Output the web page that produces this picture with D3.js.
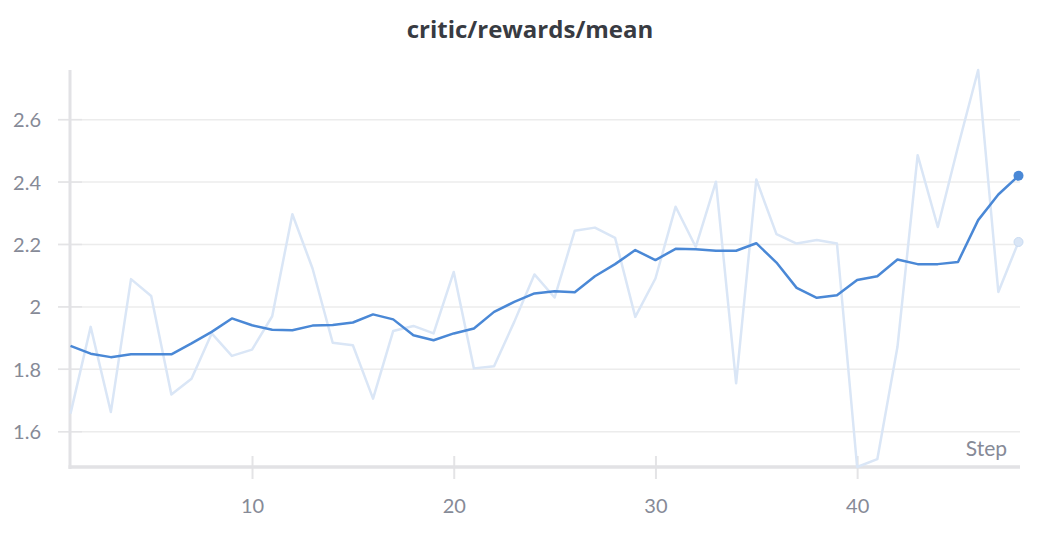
<!DOCTYPE html>
<html><head><meta charset="utf-8">
<script src="https://cdn.jsdelivr.net/npm/d3@7"></script>
<style>
html,body{margin:0;padding:0;background:#fff;}
svg{display:block;font-family:Lato,"Noto Sans",sans-serif;}
</style></head>
<body><svg id="chart" width="1056" height="534"></svg>
<script>
const title = "critic/rewards/mean";
const steps = d3.range(1, 49);
const rawValues = [1.658,1.936,1.663,2.089,2.035,1.719,1.770,1.915,1.843,1.863,
  1.970,2.297,2.123,1.885,1.877,1.706,1.923,1.939,1.915,2.112,
  1.803,1.810,1.952,2.104,2.030,2.244,2.254,2.221,1.968,2.091,
  2.321,2.192,2.401,1.755,2.408,2.233,2.203,2.214,2.203,1.487,
  1.512,1.872,2.486,2.256,2.513,2.759,2.048,2.208];
const smoothValues = [1.875,1.850,1.839,1.848,1.848,1.848,1.883,1.920,1.963,1.941,
  1.927,1.925,1.940,1.942,1.950,1.976,1.960,1.909,1.893,1.915,
  1.931,1.984,2.016,2.043,2.050,2.047,2.098,2.137,2.182,2.150,
  2.186,2.185,2.180,2.180,2.204,2.142,2.061,2.029,2.037,2.086,
  2.098,2.152,2.137,2.137,2.144,2.278,2.360,2.420];
const yTicks = [1.6, 1.8, 2.0, 2.2, 2.4, 2.6];
const yTickLabels = ["1.6","1.8","2","2.2","2.4","2.6"];
const xTicks = [10, 20, 30, 40];
const xLabel = "Step";

(function(){
const svg = d3.select("#chart");
const mLeft = 70, mRight = 1018.5, mTop = 70, mBottom = 467;
const x = d3.scaleLinear().domain([1, 48]).range([mLeft + 0.5, mRight]);
const y = d3.scaleLinear().domain([d3.min(rawValues), d3.max(rawValues)]).range([mBottom, mTop]);

const lineColor = "#4a88d6";
const rawColor = "#dae6f6";
const gridColor = "#ececec";
const axisColor = "#e2e2e5";
const textColor = "#868a97";

svg.append("text").attr("x", 530).attr("y", 38).attr("text-anchor", "middle")
  .attr("font-family", "'Open Sans','Noto Sans',sans-serif")
  .attr("font-weight", 700).attr("font-size", 24).attr("fill", "#383b42").text(title);

const yAxis = d3.axisLeft(y).tickValues(yTicks).tickFormat((d,i) => yTickLabels[i])
  .tickSize(0).tickPadding(0);
const gy = svg.append("g");
gy.selectAll("line.grid").data(yTicks).join("line").attr("class","grid")
  .attr("x1", 58).attr("x2", 1020).attr("y1", d => y(d)).attr("y2", d => y(d))
  .attr("stroke", gridColor).attr("stroke-width", 1.5);
gy.selectAll("line.tk").data(yTicks).join("line").attr("class","tk")
  .attr("x1", 58).attr("x2", 82).attr("y1", d => y(d)).attr("y2", d => y(d))
  .attr("stroke", "#e4e4e6").attr("stroke-width", 1.5);

const gyAxis = svg.append("g").attr("transform", `translate(41,0)`).call(yAxis);
gyAxis.select(".domain").remove();
gyAxis.selectAll("text").attr("font-size", 20).attr("fill", textColor)
  .attr("font-family", "Lato,'Noto Sans',sans-serif").attr("dy", "0.35em");

const xAxis = d3.axisBottom(x).tickValues(xTicks).tickSize(0).tickPadding(0);
const gx = svg.append("g").attr("transform", `translate(0,${mBottom})`).call(xAxis);
gx.select(".domain").remove();
gx.selectAll(".tick text").attr("font-size", 20).attr("fill", textColor)
  .attr("font-family", "Lato,'Noto Sans',sans-serif").attr("y", 46).attr("dy", 0);
gx.selectAll(".tick").append("line").attr("y1", -11).attr("y2", 12)
  .attr("stroke", "#e4e4e6").attr("stroke-width", 2);

svg.append("line").attr("x1", 70).attr("x2", 70).attr("y1", 70).attr("y2", mBottom + 2)
  .attr("stroke", axisColor).attr("stroke-width", 3);
svg.append("line").attr("x1", 68.5).attr("x2", 1020).attr("y1", mBottom).attr("y2", mBottom)
  .attr("stroke", axisColor).attr("stroke-width", 3.5);

svg.append("text").attr("x", 1007).attr("y", 456).attr("text-anchor", "end")
  .attr("font-size", 21).attr("fill", textColor).text(xLabel);

const line = d3.line().x((d,i) => x(steps[i])).y(d => y(d));
svg.append("path").datum(rawValues).attr("d", line).attr("fill", "none")
  .attr("stroke", rawColor).attr("stroke-width", 2.5).attr("stroke-linejoin", "round");
svg.append("path").datum(smoothValues).attr("d", line).attr("fill", "none")
  .attr("stroke", lineColor).attr("stroke-width", 2.5).attr("stroke-linejoin", "round");

svg.append("circle").attr("cx", x(48)).attr("cy", y(rawValues[47])).attr("r", 4.5)
  .attr("fill", rawColor).attr("stroke", "#c9dbf2").attr("stroke-width", 1);
svg.append("circle").attr("cx", x(48)).attr("cy", y(smoothValues[47])).attr("r", 5)
  .attr("fill", lineColor);
})();
</script></body></html>
